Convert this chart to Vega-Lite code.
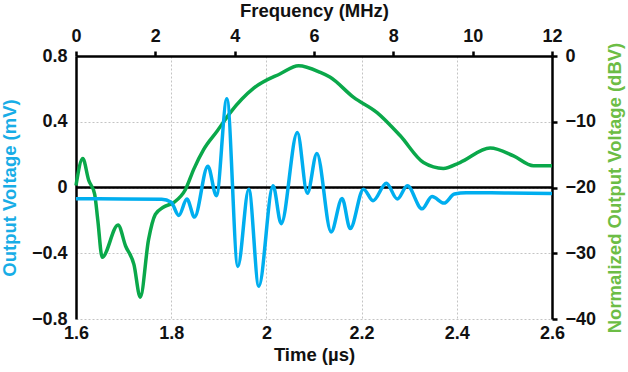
{
  "$schema": "https://vega.github.io/schema/vega-lite/v6.json",
  "width": 476,
  "height": 263,
  "autosize": {"type": "none"},
  "padding": {"left": 76, "right": 76, "top": 56, "bottom": 53},
  "background": "white",
  "config": {
    "view": {"stroke": null},
    "axis": {
      "labelFont": "Liberation Sans",
      "labelFontWeight": "bold",
      "labelFontSize": 18,
      "labelColor": "#111111",
      "labelFlush": false,
      "labelOverlap": false,
      "titleFont": "Liberation Sans",
      "titleFontWeight": "bold",
      "titleFontSize": 18.5,
      "titleColor": "#111111",
      "domainColor": "#000000",
      "domainWidth": 2.5,
      "tickColor": "#000000",
      "tickWidth": 2.5,
      "gridColor": "#c4c4c4",
      "gridDash": [2, 2],
      "gridWidth": 1
    }
  },
  "datasets": {
    "pulse": [
      {"time": 1.600, "voltage": -0.068},
      {"time": 1.700, "voltage": -0.070},
      {"time": 1.780, "voltage": -0.072},
      {"time": 1.800, "voltage": -0.090},
      {"time": 1.816, "voltage": -0.170},
      {"time": 1.833, "voltage": -0.070},
      {"time": 1.849, "voltage": -0.180},
      {"time": 1.877, "voltage": 0.130},
      {"time": 1.895, "voltage": -0.050},
      {"time": 1.917, "voltage": 0.540},
      {"time": 1.940, "voltage": -0.480},
      {"time": 1.963, "voltage": -0.010},
      {"time": 1.984, "voltage": -0.600},
      {"time": 2.014, "voltage": 0.010},
      {"time": 2.031, "voltage": -0.220},
      {"time": 2.065, "voltage": 0.335},
      {"time": 2.086, "voltage": -0.035},
      {"time": 2.106, "voltage": 0.207},
      {"time": 2.136, "voltage": -0.270},
      {"time": 2.159, "voltage": -0.067},
      {"time": 2.176, "voltage": -0.250},
      {"time": 2.204, "voltage": -0.010},
      {"time": 2.224, "voltage": -0.080},
      {"time": 2.252, "voltage": 0.026},
      {"time": 2.275, "voltage": -0.070},
      {"time": 2.296, "voltage": 0.010},
      {"time": 2.327, "voltage": -0.130},
      {"time": 2.348, "voltage": -0.055},
      {"time": 2.373, "voltage": -0.095},
      {"time": 2.395, "voltage": -0.040},
      {"time": 2.420, "voltage": -0.032},
      {"time": 2.500, "voltage": -0.033},
      {"time": 2.600, "voltage": -0.037}
    ],
    "spectrum": [
      {"freq": 0.00, "dbv": -19.7},
      {"freq": 0.17, "dbv": -15.6},
      {"freq": 0.32, "dbv": -18.9},
      {"freq": 0.47, "dbv": -21.0},
      {"freq": 0.55, "dbv": -25.0},
      {"freq": 0.66, "dbv": -30.6},
      {"freq": 1.06, "dbv": -25.7},
      {"freq": 1.25, "dbv": -28.9},
      {"freq": 1.46, "dbv": -31.7},
      {"freq": 1.62, "dbv": -36.7},
      {"freq": 1.83, "dbv": -27.9},
      {"freq": 2.00, "dbv": -24.1},
      {"freq": 2.20, "dbv": -23.0},
      {"freq": 2.46, "dbv": -22.3},
      {"freq": 2.76, "dbv": -20.3},
      {"freq": 2.97, "dbv": -17.2},
      {"freq": 3.22, "dbv": -14.2},
      {"freq": 3.56, "dbv": -11.4},
      {"freq": 3.89, "dbv": -8.6},
      {"freq": 4.48, "dbv": -4.9},
      {"freq": 5.15, "dbv": -2.7},
      {"freq": 5.61, "dbv": -1.5},
      {"freq": 6.16, "dbv": -2.5},
      {"freq": 6.40, "dbv": -3.2},
      {"freq": 7.00, "dbv": -6.3},
      {"freq": 7.59, "dbv": -8.6},
      {"freq": 8.17, "dbv": -12.1},
      {"freq": 8.76, "dbv": -16.2},
      {"freq": 9.26, "dbv": -17.1},
      {"freq": 9.68, "dbv": -16.2},
      {"freq": 10.44, "dbv": -14.0},
      {"freq": 11.03, "dbv": -15.2},
      {"freq": 11.53, "dbv": -16.7},
      {"freq": 12.00, "dbv": -16.7}
    ]
  },
  "layer": [
    {
      "data": {"values": [{"level": 0}]},
      "mark": {"type": "rule", "color": "#000000", "strokeWidth": 2.5},
      "encoding": {
        "y": {"field": "level", "type": "quantitative", "scale": {"domain": [-0.8, 0.8]}, "axis": null}
      }
    },
    {
      "data": {"name": "spectrum"},
      "mark": {"type": "line", "interpolate": "monotone", "color": "#0aa84a", "strokeWidth": 3.5},
      "encoding": {
        "x": {
          "field": "freq", "type": "quantitative",
          "scale": {"domain": [0, 12], "nice": false},
          "axis": {
            "orient": "top", "title": "Frequency (MHz)", "values": [0, 2, 4, 6, 8, 10, 12],
            "grid": false, "tickSize": 5, "labelPadding": 6, "titlePadding": 7
          }
        },
        "y": {
          "field": "dbv", "type": "quantitative",
          "scale": {"domain": [-40, 0], "nice": false},
          "axis": {
            "orient": "right", "title": "Normalized Output Voltage (dBV)", "titleColor": "#6cbd45",
            "values": [-40, -30, -20, -10, 0], "grid": false, "tickSize": 5, "labelPadding": 8,
            "titleAngle": 270, "titleBaseline": "top", "titlePadding": 10
          }
        }
      }
    },
    {
      "data": {"name": "pulse"},
      "mark": {"type": "line", "interpolate": "monotone", "color": "#00aeef", "strokeWidth": 3.5},
      "encoding": {
        "x": {
          "field": "time", "type": "quantitative",
          "scale": {"domain": [1.6, 2.6], "nice": false},
          "axis": {
            "orient": "bottom", "title": "Time (µs)", "values": [1.6, 1.8, 2.0, 2.2, 2.4, 2.6],
            "format": "~g", "grid": true, "domain": false, "ticks": false, "labelPadding": 5, "titlePadding": 3
          }
        },
        "y": {
          "field": "voltage", "type": "quantitative",
          "scale": {"domain": [-0.8, 0.8], "nice": false},
          "axis": {
            "orient": "left", "title": "Output Voltage (mV)", "titleColor": "#18ade6",
            "values": [-0.8, -0.4, 0, 0.4, 0.8], "format": ".1~f",
            "grid": true, "ticks": false, "labelPadding": 9, "titlePadding": 12
          }
        }
      }
    }
  ],
  "resolve": {"scale": {"x": "independent", "y": "independent"}}
}
